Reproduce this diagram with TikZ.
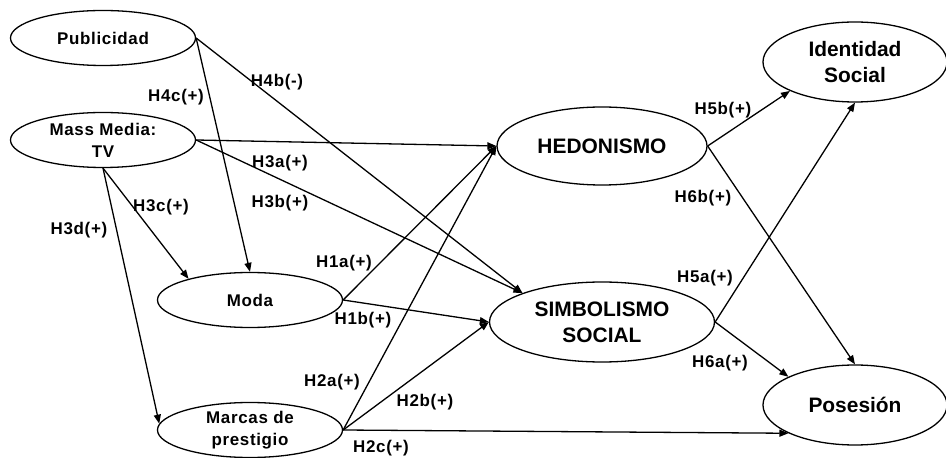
\documentclass[tikz,border=0pt]{standalone}
\usepackage{fontspec}
\setmainfont{Liberation Sans}
\newfontfamily\spacedsans[LetterSpace=4]{Liberation Sans}
\usetikzlibrary{shapes.geometric,arrows.meta}
\begin{document}
\begin{tikzpicture}[x=1bp,y=-1bp,
  construct/.style={ellipse,draw,line width=1.3bp,inner sep=0pt,align=center,
    minimum width=185bp,minimum height=55bp,font=\spacedsans\fontsize{17}{22}\selectfont\bfseries},
  bigconstruct/.style={construct,minimum height=80bp,font=\fontsize{21}{26}\selectfont\bfseries},
  link/.style={line width=1.3bp,-{Triangle[length=9bp,width=7bp]}},
  hyp/.style={font=\spacedsans\fontsize{17}{20}\selectfont\bfseries,inner sep=0pt}]
\useasboundingbox (0,0) rectangle (946,458);

% exogenous and mediating constructs
\node[construct] (pub) at (103,38) {Publicidad};
\node[construct] (mm) at (103,140) {Mass Media:\\TV};
\node[construct] (moda) at (250,300) {Moda};
\node[construct] (marc) at (250,430) {Marcas de\\prestigio};

% central constructs
\node[bigconstruct,minimum width=210bp,minimum height=78bp] (hed) at (602,146) {HEDONISMO};
\node[bigconstruct,minimum width=225bp] (sim) at (602,322) {SIMBOLISMO\\SOCIAL};

% outcome constructs
\node[bigconstruct,minimum width=184bp] (ident) at (855,62) {Identidad\\Social};
\node[bigconstruct,minimum width=184bp] (pos) at (855,405) {Posesión};

% hypothesised paths
\draw[link] (pub.east) -- (moda.north);
\draw[link] (pub.east) -- (sim.160);
\draw[link] (mm.east) -- (hed.west);
\draw[link] (mm.east) -- (sim.160);
\draw[link] (mm.south) -- (moda.161);
\draw[link] (mm.south) -- (marc.176);
\draw[link] (moda.east) -- (hed.west);
\draw[link] (moda.east) -- (sim.west);
\draw[link] (marc.east) -- (hed.west);
\draw[link] (marc.east) -- (sim.west);
\draw[link] (marc.east) -- (pos.203);
\draw[link] (hed.east) -- (ident.204);
\draw[link] (hed.east) -- (pos.north);
\draw[link] (sim.east) -- (ident.south);
\draw[link] (sim.east) -- (pos.157);

% hypothesis labels
\node[hyp] (l4c) at (176,97) {H4c(+)};
\node[hyp] (l4b) at (277,82) {H4b(-)};
\node[hyp] (l3a) at (280,163) {H3a(+)};
\node[hyp] (l3b) at (280,203) {H3b(+)};
\node[hyp] (l3c) at (161,207) {H3c(+)};
\node[hyp] (l3d) at (79,230) {H3d(+)};
\node[hyp] (l1a) at (344,263) {H1a(+)};
\node[hyp] (l1b) at (363,320) {H1b(+)};
\node[hyp] (l2a) at (332,382) {H2a(+)};
\node[hyp] (l2b) at (425,402) {H2b(+)};
\node[hyp] (l2c) at (381,448) {H2c(+)};
\node[hyp] (l5b) at (723,110) {H5b(+)};
\node[hyp] (l6b) at (703,198) {H6b(+)};
\node[hyp] (l5a) at (705,278) {H5a(+)};
\node[hyp] (l6a) at (720,363) {H6a(+)};
\end{tikzpicture}
\end{document}
